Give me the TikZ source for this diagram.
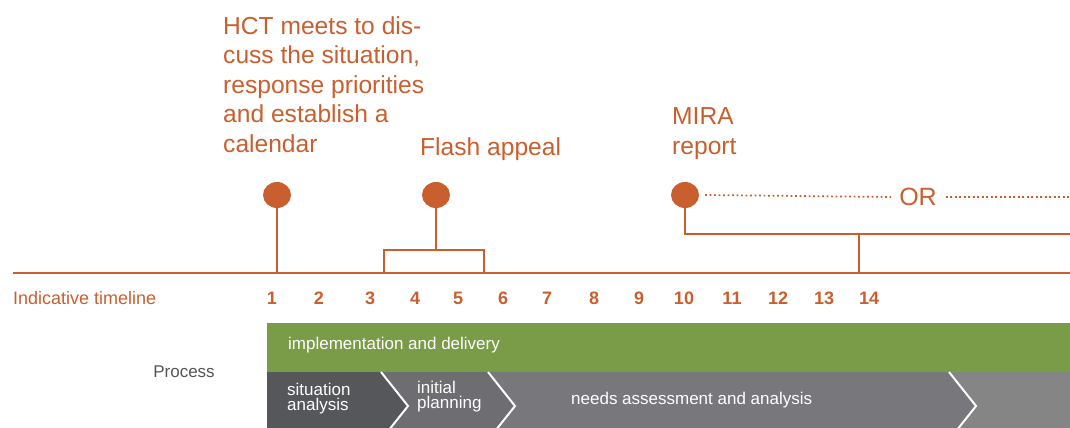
\documentclass[tikz,border=0pt]{standalone}
\usepackage{fontspec}
\setmainfont{Liberation Sans}
\usetikzlibrary{positioning, calc, shapes.geometric}

\definecolor{rust}{HTML}{C95F2E}
\definecolor{leaf}{HTML}{7A9B47}
\definecolor{slate}{HTML}{56575B}
\definecolor{stone}{HTML}{6D6D72}
\definecolor{ash}{HTML}{78777C}
\definecolor{mist}{HTML}{858586}
\definecolor{caption}{HTML}{555555}

\begin{document}
\begin{tikzpicture}[
  x=1pt, y=-1pt,
  milestone/.style = {ellipse, fill=rust, minimum width=28pt, minimum height=26pt, inner sep=0pt},
  link/.style = {draw=rust, line width=1.3pt},
  dotline/.style = {draw=rust, line width=1.7pt, dash pattern=on 1.6pt off 2.9pt},
  event/.style = {text=rust, font=\fontsize{24.6}{29.5}\selectfont, align=left, anchor=base west, inner sep=0pt},
  daynum/.style = {text=rust, font=\bfseries\fontsize{18}{20}\selectfont, inner sep=0pt},
  phase/.style = {text=white, font=\fontsize{17}{15}\selectfont, align=left, anchor=west, inner sep=0pt},
  chevron/.style = {draw=white, line width=2pt}
]

  \useasboundingbox (0,0) rectangle (1070,428);
  \clip (0,0) rectangle (1070,428);

  % Process bars
  \fill[leaf] (267,323) rectangle (1070,372);
  \fill[slate] (267,372) -- (381,372) -- (408,406) -- (381,440) -- (267,440) -- cycle;
  \fill[stone] (381,372) -- (488,372) -- (515,406) -- (488,440) -- (381,440) -- (408,406) -- cycle;
  \fill[ash] (488,372) -- (949,372) -- (976,406) -- (949,440) -- (488,440) -- (515,406) -- cycle;
  \fill[mist] (949,372) -- (1070,372) -- (1070,440) -- (949,440) -- (976,406) -- cycle;
  \foreach \cx in {381,488,949}
    \draw[chevron] (\cx,372) -- ++(27,34) -- ++(-27,34);

  \node[text=caption, font=\fontsize{17}{20}\selectfont, inner sep=0pt] (process) at (184,372) {Process};
  \node[phase] (delivery) at (288,345) {implementation and delivery};
  \node[phase] (situation) at (287,399) {situation\\analysis};
  \node[phase] (planning) at (417,397) {initial\\planning};
  \node[phase] (needs) at (571,400) {needs assessment and analysis};

  % Indicative timeline
  \coordinate (axis west) at (13,273);
  \coordinate (axis east) at (1070,273);
  \draw[link] (axis west) -- (axis east);
  \node[text=rust, font=\fontsize{18}{20}\selectfont, anchor=west, inner sep=0pt] (indicative) at (13,298) {Indicative timeline};
  \foreach \n/\x in {1/272,2/319,3/370,4/415,5/458,6/503,7/547,8/594,9/639,10/684,11/732,12/778,13/824,14/869}
    \node[daynum] (day\n) at (\x,298) {\n};

  % Milestones
  \node[milestone] (hct) at (277,195) {};
  \node[milestone] (flash) at (436,195) {};
  \node[milestone] (mira) at (685,195) {};

  \draw[link] (hct) -- (hct |- axis west);

  \coordinate (bracket) at (436,250);
  \coordinate (bracket west) at (384,273);
  \coordinate (bracket east) at (484,273);
  \draw[link] (flash) -- (bracket);
  \draw[link] (bracket west) |- (bracket east |- bracket) -- (bracket east);

  \coordinate (mira east) at (1070,234);
  \coordinate (mira drop) at (859,234);
  \draw[link] (mira) |- (mira east);
  \draw[link] (mira drop) -- (mira drop |- axis west);

  \node[text=rust, font=\fontsize{25}{28}\selectfont, inner sep=0pt] (or) at (918,197) {OR};
  \coordinate (dots east) at (1070,197);
  \draw[dotline] ([xshift=6pt]mira.east) -- ([xshift=-8pt]or.west);
  \draw[dotline] ([xshift=9pt]or.east) -- (dots east);

  % Event labels
  \node[event] (hct text) at (223,152) {HCT meets to dis-\\cuss the situation,\\response priorities\\and establish a\\calendar};
  \node[event] (flash text) at (420,155) {Flash appeal};
  \node[event] (mira text) at (672,154) {MIRA\\report};

\end{tikzpicture}
\end{document}
